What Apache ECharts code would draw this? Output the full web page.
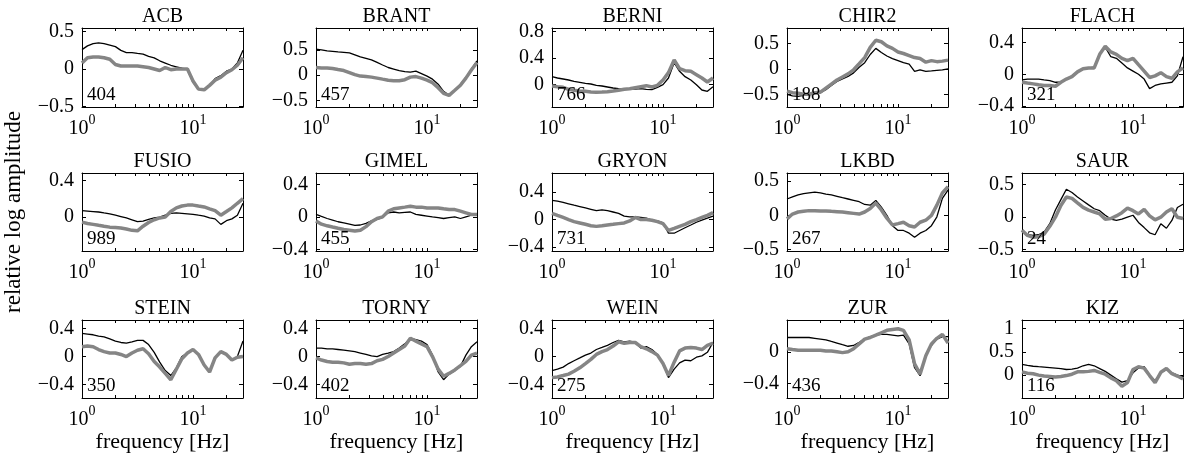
<!DOCTYPE html>
<html><head><meta charset="utf-8">
<script src="https://cdn.jsdelivr.net/npm/echarts@6/dist/echarts.min.js"></script>
<style>html,body{margin:0;padding:0;background:#fff}#c{width:1186px;height:460px}</style>
</head><body><div id="c"></div>
<script>
// ---------- data ----------
const freq = [1.00, 1.12, 1.26, 1.41, 1.58, 1.78, 2.00, 2.24, 2.51, 2.82, 3.16, 3.55, 3.98, 4.47, 5.01,
              5.62, 6.31, 7.08, 7.94, 8.91, 10.0, 11.2, 12.6, 14.1, 15.8, 17.8, 20.0, 22.4, 25.1, 28.2];
const stations = ['ACB','BRANT','BERNI','CHIR2','FLACH','FUSIO','GIMEL','GRYON','LKBD','SAUR','STEIN','TORNY','WEIN','ZUR','KIZ'];
const counts = [404, 457, 766, 188, 321, 989, 455, 731, 267, 24, 350, 402, 275, 436, 116];

const ACB_black = [0.26,0.31,0.34,0.35,0.34,0.32,0.30,0.25,0.22,0.22,0.21,0.20,0.17,0.15,0.11,0.08,0.05,0.03,0.01,-0.01,-0.18,-0.27,-0.28,-0.22,-0.13,-0.09,-0.03,0.00,0.08,0.25];
const ACB_gray  = [0.08,0.15,0.16,0.16,0.15,0.13,0.06,0.04,0.04,0.04,0.04,0.03,0.02,0.00,-0.02,0.02,-0.01,0.00,0.00,0.00,-0.16,-0.27,-0.28,-0.22,-0.15,-0.11,-0.05,-0.01,0.05,0.15];
const BRANT_black = [0.51,0.50,0.48,0.47,0.46,0.45,0.44,0.40,0.36,0.33,0.30,0.25,0.20,0.15,0.12,0.09,0.07,0.06,0.08,0.03,-0.02,-0.08,-0.18,-0.32,-0.40,-0.30,-0.18,-0.05,0.12,0.28];
const BRANT_gray  = [0.15,0.14,0.14,0.13,0.11,0.09,0.05,0.01,-0.02,-0.03,-0.04,-0.06,-0.08,-0.10,-0.11,-0.11,-0.09,-0.04,-0.03,-0.06,-0.10,-0.15,-0.25,-0.36,-0.40,-0.30,-0.20,-0.06,0.10,0.25];
const BERNI_black = [0.12,0.10,0.085,0.07,0.05,0.035,0.02,0.01,-0.01,-0.02,-0.035,-0.05,-0.06,-0.065,-0.065,-0.065,-0.06,-0.07,-0.075,-0.04,0.00,0.10,0.33,0.20,0.12,0.07,0.00,-0.08,-0.10,-0.03];
const BERNI_gray  = [-0.02,-0.03,-0.04,-0.07,-0.085,-0.095,-0.10,-0.11,-0.115,-0.11,-0.105,-0.095,-0.085,-0.07,-0.06,-0.045,-0.03,-0.015,-0.035,-0.01,0.07,0.18,0.37,0.24,0.21,0.20,0.15,0.10,0.04,0.10];
const CHIR2_black = [-0.50,-0.53,-0.54,-0.52,-0.51,-0.49,-0.47,-0.41,-0.33,-0.25,-0.20,-0.15,-0.08,0.03,0.12,0.28,0.40,0.32,0.25,0.20,0.16,0.12,0.09,-0.05,-0.02,-0.05,-0.04,-0.03,-0.02,0.00];
const CHIR2_gray  = [-0.44,-0.47,-0.48,-0.50,-0.50,-0.47,-0.46,-0.38,-0.30,-0.22,-0.16,-0.10,-0.02,0.10,0.22,0.42,0.56,0.53,0.45,0.40,0.33,0.30,0.26,0.22,0.20,0.13,0.16,0.14,0.15,0.17];
const FLACH_black = [-0.07,-0.06,-0.06,-0.06,-0.07,-0.08,-0.10,-0.10,-0.06,-0.02,0.03,0.07,0.08,0.09,0.25,0.34,0.22,0.20,0.14,0.08,0.04,0.00,-0.06,-0.18,-0.14,-0.12,-0.11,-0.10,-0.02,0.22];
const FLACH_gray  = [-0.10,-0.11,-0.12,-0.13,-0.14,-0.14,-0.15,-0.10,-0.06,-0.03,0.03,0.07,0.08,0.08,0.25,0.35,0.28,0.25,0.20,0.17,0.20,0.12,0.04,-0.04,-0.02,0.02,-0.03,-0.05,0.03,0.08];
const FUSIO_black = [0.07,0.065,0.06,0.055,0.045,0.035,0.02,0.005,-0.01,-0.03,-0.05,-0.045,-0.025,-0.01,0.00,0.02,0.04,0.045,0.04,0.035,0.03,0.02,0.01,-0.01,-0.02,-0.08,-0.04,-0.02,0.02,0.15];
const FUSIO_gray  = [-0.055,-0.07,-0.08,-0.09,-0.10,-0.11,-0.115,-0.12,-0.13,-0.145,-0.15,-0.10,-0.06,-0.03,-0.01,0.00,0.06,0.10,0.12,0.13,0.13,0.12,0.11,0.09,0.07,0.02,0.06,0.10,0.15,0.20];
const GIMEL_black = [0.03,0.005,-0.02,-0.04,-0.06,-0.075,-0.09,-0.105,-0.10,-0.08,-0.05,-0.03,-0.005,0.05,0.06,0.05,0.055,0.06,0.03,0.02,0.01,0.00,-0.01,-0.02,-0.01,0.00,-0.02,0.00,0.02,0.03];
const GIMEL_gray  = [-0.05,-0.09,-0.11,-0.125,-0.14,-0.155,-0.165,-0.175,-0.165,-0.12,-0.06,-0.02,0.00,0.07,0.10,0.11,0.12,0.13,0.12,0.12,0.11,0.11,0.11,0.10,0.09,0.09,0.07,0.05,0.03,0.03];
const GRYON_black = [0.28,0.27,0.25,0.23,0.21,0.19,0.17,0.15,0.13,0.14,0.13,0.11,0.09,0.05,0.04,0.04,0.03,0.02,-0.01,-0.02,-0.05,-0.20,-0.20,-0.16,-0.12,-0.08,-0.04,-0.01,0.02,0.05];
const GRYON_gray  = [0.09,0.06,0.03,0.00,-0.03,-0.05,-0.07,-0.09,-0.10,-0.09,-0.08,-0.07,-0.06,-0.05,-0.02,0.03,0.00,0.00,-0.01,-0.03,-0.06,-0.16,-0.13,-0.10,-0.07,-0.03,0.00,0.03,0.06,0.10];
const LKBD_black = [0.24,0.27,0.30,0.32,0.33,0.34,0.33,0.31,0.30,0.28,0.26,0.24,0.22,0.20,0.16,0.15,0.22,0.12,0.00,-0.15,-0.22,-0.22,-0.26,-0.32,-0.26,-0.22,-0.15,-0.02,0.25,0.37];
const LKBD_gray  = [-0.05,0.02,0.05,0.06,0.07,0.07,0.065,0.065,0.06,0.055,0.05,0.04,0.03,0.02,0.05,0.10,0.18,0.08,-0.04,-0.14,-0.12,-0.10,-0.15,-0.17,-0.10,-0.07,0.00,0.15,0.33,0.42];
const SAUR_black = [-0.20,-0.27,-0.28,-0.27,-0.23,-0.10,0.11,0.27,0.43,0.38,0.31,0.25,0.19,0.13,0.10,0.03,-0.03,-0.05,-0.03,0.00,0.03,-0.08,-0.16,-0.24,-0.27,-0.10,-0.17,-0.05,0.15,0.20];
const SAUR_gray  = [-0.20,-0.28,-0.31,-0.30,-0.26,-0.14,0.00,0.18,0.31,0.29,0.22,0.15,0.11,0.08,0.05,-0.03,-0.02,0.02,0.07,0.14,0.10,0.05,0.12,0.02,-0.04,0.00,0.08,0.13,0.00,-0.02];
const STEIN_black = [0.33,0.32,0.31,0.29,0.28,0.25,0.22,0.20,0.19,0.21,0.23,0.23,0.17,0.06,-0.08,-0.20,-0.27,-0.16,0.00,0.05,0.10,0.03,-0.12,-0.22,-0.02,0.07,0.03,-0.05,0.00,0.22];
const STEIN_gray  = [0.14,0.15,0.14,0.10,0.07,0.05,0.05,0.03,0.00,0.05,0.09,0.11,0.04,-0.07,-0.15,-0.24,-0.33,-0.18,-0.03,0.05,0.10,0.03,-0.12,-0.22,-0.02,0.07,0.03,-0.05,-0.01,0.00];
const TORNY_black = [0.12,0.12,0.11,0.11,0.10,0.09,0.08,0.07,0.05,0.03,0.01,0.00,0.03,0.05,0.07,0.12,0.18,0.26,0.24,0.22,0.17,0.02,-0.22,-0.33,-0.25,-0.20,-0.14,0.02,0.14,0.21];
const TORNY_gray  = [-0.02,-0.05,-0.07,-0.08,-0.08,-0.09,-0.11,-0.10,-0.10,-0.11,-0.10,-0.06,-0.04,0.00,0.05,0.10,0.15,0.26,0.22,0.18,0.14,0.00,-0.18,-0.28,-0.24,-0.19,-0.13,-0.07,0.02,0.05];
const WEIN_black = [-0.20,-0.18,-0.15,-0.10,-0.06,-0.02,0.02,0.05,0.10,0.13,0.16,0.20,0.23,0.21,0.22,0.20,0.12,0.14,0.10,0.03,-0.10,-0.30,-0.18,-0.09,-0.05,-0.06,-0.01,0.01,0.06,0.20];
const WEIN_gray  = [-0.30,-0.29,-0.27,-0.25,-0.21,-0.16,-0.10,-0.04,0.03,0.07,0.10,0.15,0.21,0.19,0.20,0.20,0.14,0.11,0.07,0.02,-0.10,-0.27,-0.08,0.08,0.12,0.13,0.12,0.10,0.16,0.19];
const ZUR_black = [0.18,0.18,0.18,0.18,0.18,0.17,0.16,0.15,0.13,0.11,0.09,0.07,0.08,0.12,0.16,0.19,0.21,0.22,0.22,0.21,0.20,0.21,0.10,-0.20,-0.30,-0.05,0.08,0.16,0.19,0.19];
const ZUR_gray  = [0.04,0.03,0.02,0.02,0.02,0.02,0.02,0.01,0.01,0.00,-0.01,0.00,0.04,0.10,0.16,0.18,0.21,0.24,0.27,0.28,0.29,0.27,0.15,-0.15,-0.28,-0.05,0.10,0.17,0.22,0.11];
const KIZ_black = [0.23,0.21,0.19,0.18,0.17,0.16,0.15,0.14,0.12,0.13,0.15,0.20,0.23,0.20,0.14,0.08,0.00,-0.08,-0.15,-0.12,0.05,0.15,0.18,0.00,-0.12,0.05,0.12,0.05,0.00,-0.04];
const KIZ_gray  = [0.07,0.04,0.03,0.00,-0.02,-0.03,-0.04,-0.03,-0.01,0.02,0.07,0.07,0.08,0.10,0.06,0.02,-0.06,-0.12,-0.24,-0.16,0.12,0.18,0.15,-0.01,-0.16,0.06,0.14,0.03,-0.02,-0.08];

const blackCurves = [ACB_black, BRANT_black, BERNI_black, CHIR2_black, FLACH_black, FUSIO_black, GIMEL_black, GRYON_black, LKBD_black, SAUR_black, STEIN_black, TORNY_black, WEIN_black, ZUR_black, KIZ_black];
const grayCurves  = [ACB_gray, BRANT_gray, BERNI_gray, CHIR2_gray, FLACH_gray, FUSIO_gray, GIMEL_gray, GRYON_gray, LKBD_gray, SAUR_gray, STEIN_gray, TORNY_gray, WEIN_gray, ZUR_gray, KIZ_gray];

const yMin = [-0.51, -0.63, -0.335, -0.75, -0.41, -0.37, -0.42, -0.46, -0.52, -0.52, -0.59, -0.59, -0.59, -0.58, -0.49];
const yMax = [0.55, 0.93, 0.85, 0.80, 0.58, 0.48, 0.54, 0.68, 0.62, 0.68, 0.52, 0.52, 0.52, 0.40, 1.18];
const yTicks = [[-0.5,0,0.5],[-0.5,0,0.5],[0,0.4,0.8],[-0.5,0,0.5],[-0.4,0,0.4],
                [0,0.4],[-0.4,0,0.4],[-0.4,0,0.4],[-0.5,0,0.5],[-0.5,0,0.5],
                [-0.4,0,0.4],[-0.4,0,0.4],[-0.4,0,0.4],[-0.4,0],[0,0.5,1]];
const xLabelValues = [1, 10];
const xTickValues = [1,2,3,4,5,6,7,8,9,10,20];
const xMin = 1, xMax = 28.2;

// ---------- layout ----------
const FONT = '"Liberation Serif", "DejaVu Serif", serif';
const colLeft = [82, 316, 552, 787, 1022];
const rowTop = [28, 173, 320];
const rowH = [79, 78, 78];
const W = 161;

const grids = [], xAxes = [], yAxes = [], series = [], titles = [];
const txt = (size) => ({fontFamily: FONT, fontSize: size, color: '#000', fontWeight: 'normal'});
const fmtY = v => (v < 0 ? '\u2212' + String(-v) : String(v));

stations.forEach((name, i) => {
  const r = Math.floor(i / 5), c = i % 5;
  const L = colLeft[c], T = rowTop[r], H = rowH[r];
  grids.push({left: L, top: T, width: W, height: H, show: false, outerBoundsMode: 'none'});
  const xBase = {
    type: 'log', logBase: 10, gridIndex: i, min: xMin, max: xMax,
    axisLine: {show: true, onZero: false, lineStyle: {color: '#000', width: 1}},
    axisTick: {show: true, inside: true, length: 3, customValues: xTickValues, lineStyle: {color: '#000', width: 1}},
    splitLine: {show: false}, minorTick: {show: false}, minorSplitLine: {show: false}
  };
  xAxes.push(Object.assign({}, xBase, {
    position: 'bottom',
    axisLabel: {show: true, customValues: xLabelValues, margin: 6,
      formatter: v => '{b|10}{s|' + Math.round(Math.log10(v)) + '}',
      rich: {b: Object.assign(txt(20), {lineHeight: 32}), s: Object.assign(txt(14), {lineHeight: 12, verticalAlign: 'top'})}},
    name: r === 2 ? 'frequency [Hz]' : '', nameLocation: 'middle', nameGap: 33,
    nameTextStyle: Object.assign(txt(22), {verticalAlign: 'top'})
  }));
  xAxes.push(Object.assign({}, xBase, {position: 'top', axisLabel: {show: false}}));
  const yBase = {
    type: 'value', gridIndex: i, min: yMin[i], max: yMax[i],
    axisLine: {show: true, onZero: false, lineStyle: {color: '#000', width: 1}},
    axisTick: {show: true, inside: true, length: 4, customValues: yTicks[i], lineStyle: {color: '#000', width: 1}},
    splitLine: {show: false}
  };
  yAxes.push(Object.assign({}, yBase, {
    position: 'left',
    axisLabel: Object.assign(txt(20), {show: true, customValues: yTicks[i], margin: 8, formatter: fmtY}),
    name: i === 5 ? 'relative log amplitude' : '', nameLocation: 'middle', nameRotate: 90, nameGap: 57,
    nameTextStyle: txt(23)
  }));
  yAxes.push(Object.assign({}, yBase, {position: 'right', axisLabel: {show: false}}));

  series.push({type: 'line', xAxisIndex: 2 * i, yAxisIndex: 2 * i, showSymbol: false, symbol: 'none', clip: true,
    data: freq.map((f, k) => [f, blackCurves[i][k]]), lineStyle: {color: '#000', width: 1.3}, z: 2});
  series.push({type: 'line', xAxisIndex: 2 * i, yAxisIndex: 2 * i, showSymbol: false, symbol: 'none', clip: true,
    data: freq.map((f, k) => [f, grayCurves[i][k]]), lineStyle: {color: '#858585', width: 3.5}, z: 3});

  titles.push({text: name, left: L + W / 2, top: T - 21, textAlign: 'center', padding: 0, textStyle: txt(20)});
  titles.push({text: String(counts[i]), left: L + 5, top: T + H - 21, padding: 0, textStyle: txt(19), z: 10});
});

const chart = echarts.init(document.getElementById('c'), null, {renderer: 'canvas'});
chart.setOption({
  animation: false,
  backgroundColor: '#fff',
  title: titles,
  grid: grids,
  xAxis: xAxes,
  yAxis: yAxes,
  series: series
});
</script>
</body></html>
